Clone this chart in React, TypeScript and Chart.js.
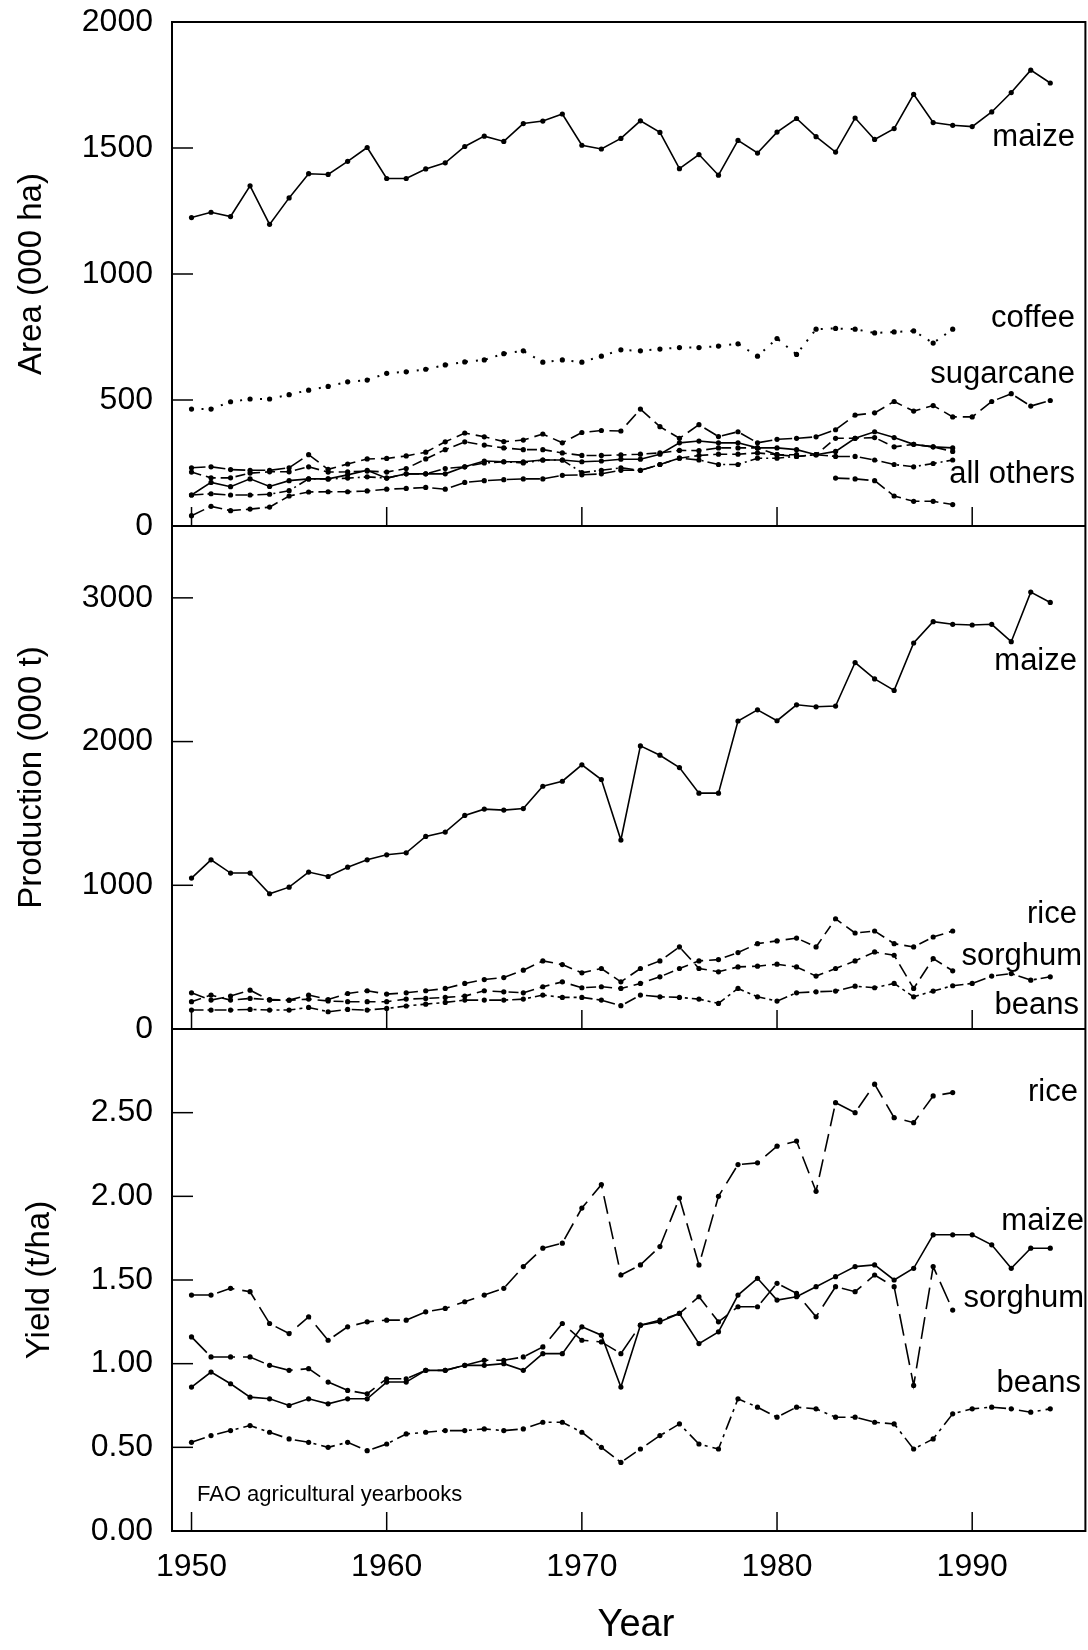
import React, { useEffect, useRef } from 'react';
import { Chart, registerables } from 'chart.js';

Chart.register(...registerables);

const FONT = "'Liberation Sans', Arial, Helvetica, sans-serif";

// ---------- categories ----------
const years = [
  1950, 1951, 1952, 1953, 1954, 1955, 1956, 1957, 1958, 1959,
  1960, 1961, 1962, 1963, 1964, 1965, 1966, 1967, 1968, 1969,
  1970, 1971, 1972, 1973, 1974, 1975, 1976, 1977, 1978, 1979,
  1980, 1981, 1982, 1983, 1984, 1985, 1986, 1987, 1988, 1989,
  1990, 1991, 1992, 1993, 1994,
];

// ---------- tick labels ----------
const yearTicks = [1950, 1960, 1970, 1980, 1990];
const areaTicks = [0, 500, 1000, 1500, 2000];
const prodTicks = [0, 1000, 2000, 3000];
const yieldTicks = [0, 0.5, 1, 1.5, 2, 2.5];

// ---------- Area (000 ha) ----------
const areaMaize = [
  1224, 1245, 1228, 1350, 1197, 1302, 1398, 1395, 1447, 1502,
  1379, 1379, 1417, 1441, 1506, 1547, 1526, 1597, 1607, 1635,
  1511, 1496, 1538, 1608, 1562, 1418, 1474, 1392, 1530, 1480,
  1563, 1617, 1545, 1484, 1619, 1534, 1577, 1713, 1601, 1590,
  1585, 1643, 1720, 1809, 1758,
];
const areaCoffee = [
  464, 464, 493, 504, 504, 521, 539, 554, 572, 579,
  606, 612, 622, 639, 651, 659, 684, 695, 650, 659,
  650, 674, 699, 695, 702, 708, 708, 714, 723, 674,
  744, 681, 781, 784, 781, 766, 770, 774, 726, 781,
];
const areaSugarcane = [
  231, 235, 224, 221, 221, 231, 283, 225, 246, 266,
  268, 278, 293, 334, 369, 354, 335, 341, 365, 330,
  371, 379, 377, 464, 394, 348, 402, 355, 374, 330,
  344, 348, 354, 382, 440, 449, 494, 456, 478, 433,
  433, 494, 525, 476, 498,
];
const areaOther1 = [
  123, 173, 156, 187, 157, 180, 187, 187, 203, 221,
  190, 207, 207, 207, 235, 258, 255, 255, 262, 262,
  255, 258, 265, 265, 285, 330, 337, 330, 330, 310,
  310, 303, 283, 296, 348, 374, 351, 324, 314, 310,
];
const areaOther2 = [
  214, 191, 191, 210, 215, 215, 235, 214, 215, 218,
  214, 228, 266, 303, 334, 321, 310, 303, 303, 290,
  280, 280, 282, 285, 290, 300, 299, 310, 310, 310,
  283, 276, 283, 348, 348, 351, 314, 324, 314, 296,
];
const areaOther3 = [
  123, 128, 123, 123, 126, 140, 187, 187, 190, 195,
  190, 207, 207, 228, 235, 250, 255, 250, 262, 262,
  212, 221, 231, 221, 244, 269, 262, 244, 244, 269,
  269, 276, 283, 276, 276, 262, 244, 235, 248, 262,
];
const areaOther4 = [
  41, 78, 61, 67, 75, 119, 135, 136, 136, 139,
  146, 149, 153, 146, 173, 180, 184, 187, 187, 201,
  203, 207, 221, 221, 244, 269, 280, 285, 285, 290,
  283, 283, null, 190, 187, 180, 119, 98, 98, 85,
];

// ---------- Production (000 t) ----------
const prodMaize = [
  1050, 1177, 1085, 1085, 941, 987, 1092, 1061, 1126, 1177,
  1212, 1226, 1340, 1370, 1486, 1530, 1523, 1534, 1689, 1724,
  1838, 1736, 1315, 1970, 1905, 1819, 1641, 1641, 2143, 2221,
  2145, 2256, 2242, 2247, 2550, 2436, 2356, 2686, 2834, 2816,
  2811, 2816, 2695, 3040, 2968,
];
const prodRice = [
  190, 236, 201, 213, 205, 200, 208, 195, 190, 190,
  190, 208, 213, 220, 229, 266, 259, 252, 294, 328,
  287, 294, 282, 317, 363, 421, 474, 483, 532, 594,
  613, 633, 571, 767, 668, 682, 594, 571, 640, 682,
];
const prodSorghum = [
  252, 201, 229, 270, 201, 201, 236, 205, 247, 266,
  243, 252, 266, 282, 317, 344, 358, 409, 474, 448,
  391, 421, 328, 421, 474, 571, 421, 398, 432, 437,
  451, 432, 368, 421, 474, 536, 513, 282, 490, 405,
];
const prodBeans = [
  132, 132, 132, 136, 132, 132, 150, 120, 136, 132,
  143, 160, 173, 185, 201, 201, 201, 208, 236, 220,
  220, 201, 162, 236, 224, 220, 208, 178, 282, 224,
  194, 252, 259, 264, 298, 287, 317, 224, 264, 301,
  317, 368, 386, 340, 363,
];

// ---------- Yield (t/ha) ----------
const yieldRice = [
  1.41, 1.41, 1.45, 1.43, 1.24, 1.18, 1.28, 1.14, 1.22, 1.25,
  1.26, 1.26, 1.31, 1.33, 1.37, 1.41, 1.45, 1.58, 1.69, 1.72,
  1.93, 2.07, 1.53, 1.59, 1.70, 1.99, 1.59, 2.00, 2.19, 2.20,
  2.30, 2.33, 2.03, 2.56, 2.50, 2.67, 2.47, 2.44, 2.60, 2.62,
];
const yieldMaize = [
  0.86, 0.95, 0.88, 0.80, 0.79, 0.75, 0.79, 0.76, 0.79, 0.79,
  0.89, 0.89, 0.96, 0.96, 0.99, 0.99, 1.00, 0.96, 1.06, 1.06,
  1.22, 1.17, 0.86, 1.23, 1.25, 1.30, 1.12, 1.19, 1.41, 1.51,
  1.38, 1.40, 1.46, 1.52, 1.58, 1.59, 1.50, 1.57, 1.77, 1.77,
  1.77, 1.71, 1.57, 1.69, 1.69,
];
const yieldSorghum = [
  1.16, 1.04, 1.04, 1.04, 0.99, 0.96, 0.97, 0.89, 0.84, 0.82,
  0.91, 0.91, 0.96, 0.96, 0.99, 1.02, 1.02, 1.04, 1.10, 1.24,
  1.14, 1.13, 1.06, 1.23, 1.26, 1.30, 1.40, 1.25, 1.34, 1.34,
  1.48, 1.42, 1.28, 1.46, 1.43, 1.53, 1.46, 0.87, 1.58, 1.32,
];
const yieldBeans = [
  0.53, 0.57, 0.60, 0.63, 0.59, 0.55, 0.53, 0.50, 0.53, 0.48,
  0.52, 0.58, 0.59, 0.60, 0.60, 0.61, 0.60, 0.61, 0.65, 0.65,
  0.59, 0.50, 0.41, 0.49, 0.57, 0.64, 0.52, 0.49, 0.79, 0.74,
  0.68, 0.74, 0.73, 0.68, 0.68, 0.65, 0.64, 0.49, 0.55, 0.70,
  0.73, 0.74, 0.73, 0.71, 0.73,
];

// ---------- annotation texts ----------
const panels = [
  { scaleId: 'yArea', title: 'Area (000 ha)', titleX: 32, inner: [500, 1000, 1500] },
  { scaleId: 'yProd', title: 'Production (000 t)', titleX: 32, inner: [1000, 2000, 3000] },
  { scaleId: 'yYield', title: 'Yield (t/ha)', titleX: 40, inner: [0.5, 1, 1.5, 2, 2.5] },
];
const seriesLabels = [
  { text: 'maize', scaleId: 'yArea', at: 1540, right: 1075 },
  { text: 'coffee', scaleId: 'yArea', at: 825, right: 1075 },
  { text: 'sugarcane', scaleId: 'yArea', at: 603, right: 1075 },
  { text: 'all others', scaleId: 'yArea', at: 203, right: 1075 },
  { text: 'maize', scaleId: 'yProd', at: 2556, right: 1077 },
  { text: 'rice', scaleId: 'yProd', at: 795, right: 1077 },
  { text: 'sorghum', scaleId: 'yProd', at: 508, right: 1082 },
  { text: 'beans', scaleId: 'yProd', at: 161, right: 1079 },
  { text: 'rice', scaleId: 'yYield', at: 2.62, right: 1078 },
  { text: 'maize', scaleId: 'yYield', at: 1.85, right: 1084 },
  { text: 'sorghum', scaleId: 'yYield', at: 1.39, right: 1084 },
  { text: 'beans', scaleId: 'yYield', at: 0.883, right: 1081 },
];

function pts(vals: (number | null)[]) {
  return vals.map((v, i) => ({ x: years[i], y: v }));
}

function line(label: string, vals: (number | null)[], yAxisID: string, dash: number[], extra: any = {}) {
  return {
    label,
    data: pts(vals),
    yAxisID,
    borderColor: '#000',
    backgroundColor: '#000',
    borderWidth: 1.6,
    borderDash: dash,
    pointRadius: 2.6,
    pointHoverRadius: 2.6,
    pointBackgroundColor: '#000',
    pointBorderWidth: 0,
    tension: 0,
    spanGaps: false,
    ...extra,
  };
}

const decorations = {
  id: 'decorations',
  afterDraw(chart: any) {
    const { ctx, chartArea: ca, scales } = chart;
    const xs = scales.x;
    ctx.save();
    ctx.strokeStyle = '#000';
    ctx.fillStyle = '#000';
    ctx.lineWidth = 2;
    ctx.strokeRect(ca.left, ca.top, ca.right - ca.left, ca.bottom - ca.top);
    panels.forEach((p) => {
      const s = scales[p.scaleId];
      ctx.lineWidth = 2;
      ctx.beginPath();
      ctx.moveTo(ca.left, s.bottom);
      ctx.lineTo(ca.right, s.bottom);
      ctx.stroke();
      ctx.lineWidth = 1.5;
      yearTicks.forEach((yr) => {
        const px = xs.getPixelForValue(yr);
        ctx.beginPath();
        ctx.moveTo(px, s.bottom);
        ctx.lineTo(px, s.bottom - 19);
        ctx.stroke();
      });
      p.inner.forEach((v) => {
        const py = s.getPixelForValue(v);
        ctx.beginPath();
        ctx.moveTo(ca.left, py);
        ctx.lineTo(ca.left + 21, py);
        ctx.stroke();
      });
      ctx.save();
      ctx.translate(p.titleX, (s.top + s.bottom) / 2);
      ctx.rotate(-Math.PI / 2);
      ctx.font = `33px ${FONT}`;
      ctx.textAlign = 'center';
      ctx.textBaseline = 'middle';
      ctx.fillText(p.title, 0, 0);
      ctx.restore();
    });
    ctx.font = `31px ${FONT}`;
    ctx.textAlign = 'right';
    ctx.textBaseline = 'middle';
    seriesLabels.forEach((l) => {
      const s = scales[l.scaleId];
      ctx.fillText(l.text, l.right, s.getPixelForValue(l.at));
    });
    ctx.font = `22px ${FONT}`;
    ctx.textAlign = 'left';
    ctx.fillText('FAO agricultural yearbooks', ca.left + 25, scales.yYield.getPixelForValue(0.214));
    ctx.font = `38px ${FONT}`;
    ctx.textAlign = 'center';
    ctx.fillText('Year', 636, 1626);
    ctx.restore();
  },
};

function yScale(tickVals: number[], min: number, max: number, stackWeight: number, weight: number, fmt: (v: number) => string) {
  return {
    type: 'linear',
    position: 'left',
    stack: 'panels',
    stackWeight,
    weight,
    min,
    max,
    afterBuildTicks: (s: any) => {
      s.ticks = tickVals.map((v) => ({ value: v }));
    },
    afterFit: (s: any) => {
      s.width = 172;
      s.paddingTop = 0;
      s.paddingBottom = 0;
    },
    ticks: {
      font: { family: FONT, size: 32 },
      color: '#000',
      padding: 19,
      callback: (v: any) => fmt(Number(v)),
      autoSkip: false,
    },
    grid: { display: false, drawTicks: false },
    border: { display: false },
  };
}

export default function App() {
  const ref = useRef<HTMLCanvasElement>(null);
  useEffect(() => {
    if (!ref.current) return;
    const chart = new Chart(ref.current, {
      type: 'line',
      data: {
        datasets: [
          line('Area maize', areaMaize, 'yArea', []),
          line('Area coffee', areaCoffee, 'yArea', [2, 8], { borderWidth: 2 }),
          line('Area sugarcane', areaSugarcane, 'yArea', [14, 6]),
          line('Area other 1', areaOther1, 'yArea', []),
          line('Area other 2', areaOther2, 'yArea', [10, 5]),
          line('Area other 3', areaOther3, 'yArea', [12, 4, 2, 4]),
          line('Area other 4', areaOther4, 'yArea', [14, 5]),
          line('Production maize', prodMaize, 'yProd', []),
          line('Production rice', prodRice, 'yProd', [10, 6]),
          line('Production sorghum', prodSorghum, 'yProd', [14, 6]),
          line('Production beans', prodBeans, 'yProd', [12, 4, 3, 4]),
          line('Yield rice', yieldRice, 'yYield', [18, 8]),
          line('Yield maize', yieldMaize, 'yYield', []),
          line('Yield sorghum', yieldSorghum, 'yYield', [22, 8]),
          line('Yield beans', yieldBeans, 'yYield', [14, 5, 3, 5]),
        ],
      },
      options: {
        animation: false,
        responsive: false,
        maintainAspectRatio: false,
        events: [],
        layout: { padding: { top: 22, right: 2, bottom: 0, left: 0 } },
        plugins: { legend: { display: false }, tooltip: { enabled: false } },
        scales: {
          x: {
            type: 'linear',
            min: 1949,
            max: 1995.8,
            afterBuildTicks: (s: any) => {
              s.ticks = yearTicks.map((v) => ({ value: v }));
            },
            afterFit: (s: any) => {
              s.height = 119;
            },
            ticks: {
              font: { family: FONT, size: 32 },
              color: '#000',
              padding: 17,
              maxRotation: 0,
              autoSkip: false,
              callback: (v: any) => String(v),
            },
            grid: { display: false, drawTicks: false },
            border: { display: false },
          },
          yYield: yScale(yieldTicks, 0, 3, 502, 1, (v) => v.toFixed(2)),
          yProd: yScale(prodTicks, 0, 3500, 503, 2, (v) => String(v)),
          yArea: yScale(areaTicks, 0, 2000, 504, 3, (v) => String(v)),
        } as any,
      },
      plugins: [decorations],
    } as any);
    return () => chart.destroy();
  }, []);
  return (
    <div style={{ position: 'absolute', left: 0, top: 0, width: 1088, height: 1650, background: '#fff' }}>
      <canvas ref={ref} width={1088} height={1650} style={{ display: 'block', width: 1088, height: 1650 }} />
    </div>
  );
}
